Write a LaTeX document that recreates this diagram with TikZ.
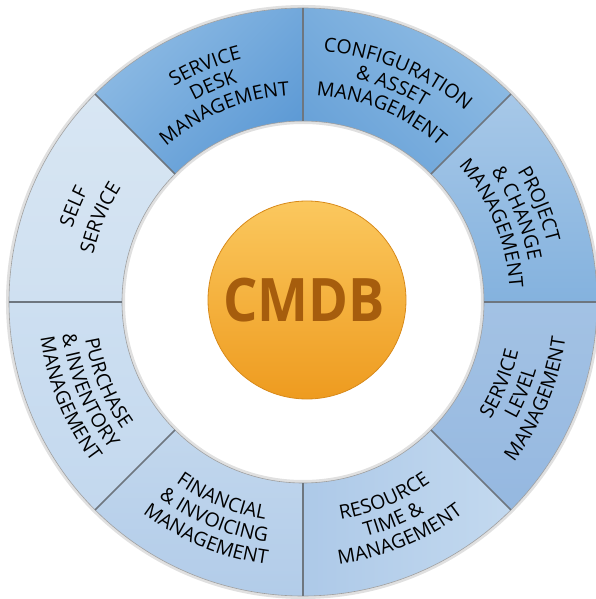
\documentclass[tikz,border=0pt]{standalone}
\usepackage{fontspec}
\usetikzlibrary{decorations.text}

\newfontfamily\ringfont{Open Sans}

\definecolor{deskA}{HTML}{8EBBE4}
\definecolor{deskB}{HTML}{5D9AD5}
\definecolor{confA}{HTML}{8FBCE4}
\definecolor{confB}{HTML}{69A2D8}
\definecolor{projA}{HTML}{A7C8E8}
\definecolor{projB}{HTML}{84B2DE}
\definecolor{slmA}{HTML}{A3C2E4}
\definecolor{slmB}{HTML}{95B8E0}
\definecolor{resA}{HTML}{C3D9EF}
\definecolor{resB}{HTML}{ADC9E8}
\definecolor{finA}{HTML}{C2D7ED}
\definecolor{finB}{HTML}{B2CCE9}
\definecolor{purA}{HTML}{CDDFF1}
\definecolor{purB}{HTML}{C3D8EE}
\definecolor{selfA}{HTML}{D8E6F3}
\definecolor{selfB}{HTML}{CFE0F1}
\definecolor{hubtop}{HTML}{FBC85E}
\definecolor{hubbot}{HTML}{EE9B1F}
\definecolor{hubedge}{HTML}{D88A1A}
\definecolor{hubink}{HTML}{A65D0D}
\definecolor{gapgray}{HTML}{6E767F}

\def\rout{294}
\def\rin{181}
\newcommand{\labelfont}{\ringfont\fontsize{19.5}{20}\selectfont}
% text lines bent round the ring, upper half read clockwise
\newcommand{\upperline}[3]{%
  \path[decorate,decoration={text along path,text align=center,
      text={|\labelfont|#3}}]
    ({#1+22.5}:#2) arc[start angle={#1+22.5},delta angle=-45,radius=#2];}
% lower half read anticlockwise
\newcommand{\lowerline}[3]{%
  \path[decorate,decoration={text along path,text align=center,
      text={|\labelfont|#3}}]
    ({#1-22.5}:#2) arc[start angle={#1-22.5},delta angle=45,radius=#2];}

\begin{document}
\begin{tikzpicture}[x=1pt,y=1pt,
  divider/.style={draw=gapgray,line width=1.6pt},
  rim/.style={draw=gray!75,line width=0.6pt}]
\useasboundingbox (-303,-297) rectangle (292,302);

% soft shadow of the ring
\draw[black,opacity=.12,line width=3pt] (0,0) circle (295.5) (0,0) circle (179.5);

% ring segments
\foreach \s/\ca/\cb/\ang in {90/deskA/deskB/45, 45/confA/confB/-45,
    0/projA/projB/0, -45/slmA/slmB/0, -90/resA/resB/-90,
    -135/finA/finB/0, 180/purA/purB/0, 135/selfA/selfB/0}
  \shade[top color=\ca,bottom color=\cb,shading angle=\ang]
    (\s:\rout) arc[start angle=\s,delta angle=45,radius=\rout]
    -- ({\s+45}:\rin) arc[start angle={\s+45},delta angle=-45,radius=\rin]
    -- cycle;

\draw[rim] (0,0) circle (\rout) (0,0) circle (\rin);
\foreach \a in {0,45,...,315}
  \draw[divider] (\a:\rin) -- (\a:\rout);

% labels
\upperline{157.5}{242}{SELF}
\upperline{157.5}{215}{SERVICE}

\upperline{112.5}{251}{SERVICE}
\upperline{112.5}{229}{DESK}
\upperline{112.5}{207}{MANAGEMENT}

\upperline{67.5}{251}{CONFIGURATION}
\upperline{67.5}{229}{{\&} ASSET}
\upperline{67.5}{207}{MANAGEMENT}

\upperline{22.5}{251}{PROJECT}
\upperline{22.5}{229}{{\&} CHANGE}
\upperline{22.5}{207}{MANAGEMENT}

\lowerline{-22.5}{221}{SERVICE}
\lowerline{-22.5}{243}{LEVEL}
\lowerline{-22.5}{265}{MANAGEMENT}

\lowerline{-67.5}{221}{RESOURCE}
\lowerline{-67.5}{243}{TIME {\&}}
\lowerline{-67.5}{265}{MANAGEMENT}

\lowerline{-112.5}{221}{FINANCIAL}
\lowerline{-112.5}{243}{{\&} INVOICING}
\lowerline{-112.5}{265}{MANAGEMENT}

\lowerline{-157.5}{221}{PURCHASE}
\lowerline{-157.5}{243}{{\&} INVENTORY}
\lowerline{-157.5}{265}{MANAGEMENT}

% centre disc
\shade[top color=hubtop,bottom color=hubbot] (4,2) circle (99);
\draw[hubedge,line width=0.8pt] (4,2) circle (99);
\node[text=hubink] (cmdb) at (1,2)
  {\scalebox{0.9}[1]{\ringfont\bfseries\fontsize{60}{60}\selectfont CMDB}};
\end{tikzpicture}
\end{document}
